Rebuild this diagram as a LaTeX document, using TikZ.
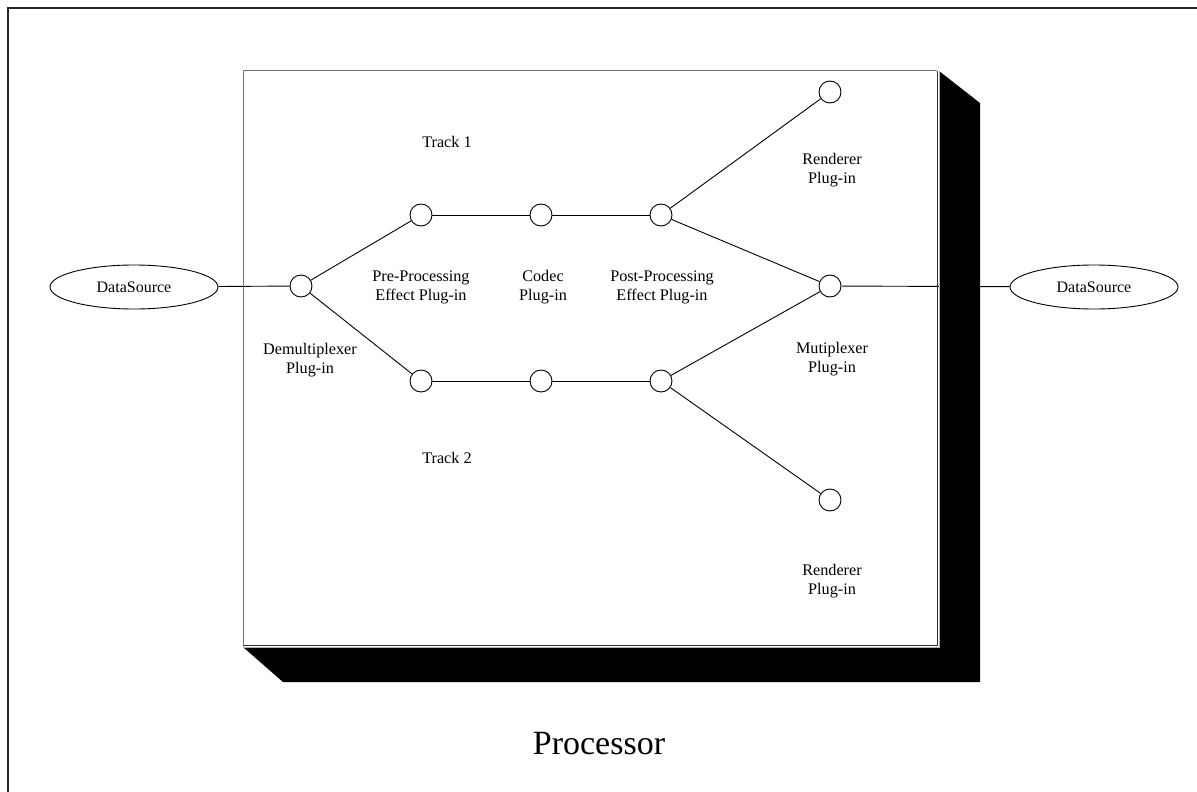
\documentclass[tikz,border=0pt]{standalone}
\usepackage{fontspec}
\setmainfont{Liberation Serif}
\usetikzlibrary{shapes.geometric}
\begin{document}
\begin{tikzpicture}[x=1pt,y=-1pt,
  port/.style={circle,draw,line width=0.9pt,fill=white,minimum size=22pt,inner sep=0pt},
  src/.style={ellipse,draw,line width=0.9pt,fill=white,minimum width=168pt,minimum height=44pt,inner sep=0pt,font=\fontsize{16}{19}\selectfont},
  lbl/.style={align=center,font=\fontsize{16.2}{19}\selectfont,inner sep=0pt},
  link/.style={line width=0.9pt}]
\useasboundingbox (0,0) rectangle (1197,792);
\clip (0,0) rectangle (1197,792);
% outer frame
\draw[line width=2pt,black!85] (8,8.5) rectangle (1210,810);
% processor panel
\fill[white] (243,71) rectangle (938,646);
% plug-in ports
\node[port] (demux) at (301,286) {};
\node[port] (pre1)  at (421,215) {};
\node[port] (cod1)  at (541,215) {};
\node[port] (post1) at (661,215) {};
\node[port] (rend1) at (830,92) {};
\node[port] (mux)   at (830,286) {};
\node[port] (pre2)  at (421,381) {};
\node[port] (cod2)  at (541,381) {};
\node[port] (post2) at (661,381) {};
\node[port] (rend2) at (830,500) {};
% data sources
\node[src] (dsin)  at (134,287) {DataSource};
\node[src] (dsout) at (1094,287) {DataSource};
% connectors
\draw[link] (dsin) -- (demux);
\draw[link] (demux) -- (pre1);
\draw[link] (demux) -- (pre2);
\draw[link] (pre1) -- (cod1);
\draw[link] (cod1) -- (post1);
\draw[link] (pre2) -- (cod2);
\draw[link] (cod2) -- (post2);
\draw[link] (post1) -- (rend1);
\draw[link] (post1) -- (mux);
\draw[link] (post2) -- (mux);
\draw[link] (post2) -- (rend2);
\draw[link] (mux) -- (dsout);
% drop shadow of the panel
\fill[black] (939,71) -- (980,103) -- (980,682) -- (283,682) -- (243,647) -- (939,647) -- cycle;
\draw[black!30,line width=0.8pt] (939,71) -- (939,647) -- (243,647);
% panel border
\draw[black!55,line width=1pt] (243,646) -- (243,71) -- (937,71);
\draw[black!80,line width=0.8pt] (937,71) -- (937,645) -- (243,645);
% labels
\node[lbl] at (447,142) {Track 1};
\node[lbl] at (421,287) {Pre-Processing\\Effect Plug-in};
\node[lbl] at (543,287) {Codec\\Plug-in};
\node[lbl] at (662,287) {Post-Processing\\Effect Plug-in};
\node[lbl] at (832,170) {Renderer\\Plug-in};
\node[lbl] at (310,360) {Demultiplexer\\Plug-in};
\node[lbl] at (832,359) {Mutiplexer\\Plug-in};
\node[lbl] at (447,458) {Track 2};
\node[lbl] at (832,581) {Renderer\\Plug-in};
\node[font=\fontsize{34}{40}\selectfont,inner sep=0pt] at (599,744) {Processor};
\end{tikzpicture}
\end{document}
